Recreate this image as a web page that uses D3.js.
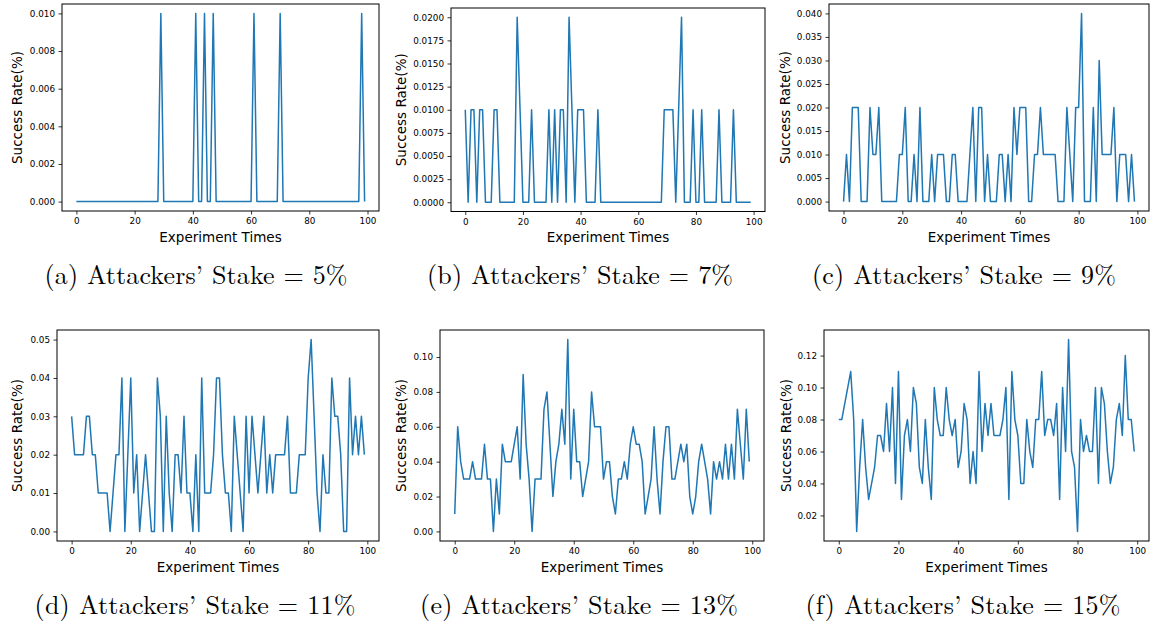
<!DOCTYPE html>
<html>
<head>
<meta charset="utf-8">
<script src="https://cdn.jsdelivr.net/npm/d3@7/dist/d3.min.js"></script>
<style>
  body { margin: 0; background: #fff; }
  svg { display: block; }
</style>
</head>
<body>
<svg id="fig" width="1151" height="624"></svg>
<script>
// Experiment index (x axis): runs 0..99
const experimentTimes = d3.range(100);

// Success rate per run, one series per attackers' stake
const stake5 = [
  0,0,0,0,0,0,0,0,0,0,
  0,0,0,0,0,0,0,0,0,0,
  0,0,0,0,0,0,0,0,0,0.01,
  0,0,0,0,0,0,0,0,0,0,
  0,0.01,0,0,0.01,0,0,0.01,0,0,
  0,0,0,0,0,0,0,0,0,0,
  0,0.01,0,0,0,0,0,0,0,0,
  0.01,0,0,0,0,0,0,0,0,0,
  0,0,0,0,0,0,0,0,0,0,
  0,0,0,0,0,0,0,0,0.01,0
];
const stake7 = [
  0.01,0,0.01,0.01,0,0.01,0.01,0,0,0,
  0.01,0.01,0,0,0,0,0,0,0.02,0.01,
  0,0,0,0.01,0,0,0,0,0,0.01,
  0,0.01,0,0.01,0.01,0,0.02,0.01,0,0.01,
  0.01,0.01,0,0,0,0,0.01,0,0,0,
  0,0,0,0,0,0,0,0,0,0,
  0,0,0,0,0,0,0,0,0,0.01,
  0.01,0.01,0.01,0,0.01,0.02,0,0,0,0.01,
  0,0,0.01,0,0,0,0,0,0.01,0,
  0,0,0,0.01,0,0,0,0,0,0
];
const stake9 = [
  0,0.01,0,0.02,0.02,0.02,0,0,0,0.02,
  0.01,0.01,0.02,0,0,0,0,0,0,0.01,
  0.01,0.02,0,0,0.01,0,0.02,0,0,0,
  0.01,0,0.01,0.01,0.01,0,0,0.01,0.01,0,
  0,0,0,0.01,0.02,0,0.02,0.02,0,0.01,
  0,0,0,0.01,0.01,0,0.01,0,0.02,0.01,
  0.02,0.02,0.02,0,0,0.01,0.01,0.02,0.01,0.01,
  0.01,0.01,0.01,0,0,0,0.02,0.01,0,0.02,
  0.02,0.04,0,0,0,0.02,0,0.03,0.01,0.01,
  0.01,0.01,0.02,0,0.01,0.01,0.01,0,0.01,0
];
const stake11 = [
  0.03,0.02,0.02,0.02,0.02,0.03,0.03,0.02,0.02,0.01,
  0.01,0.01,0.01,0,0.01,0.02,0.02,0.04,0,0.02,
  0.04,0.01,0.02,0,0.01,0.02,0.01,0,0,0.04,
  0.03,0,0.03,0.01,0,0.02,0.02,0.01,0.03,0.01,
  0.01,0,0.02,0,0.04,0.01,0.01,0.01,0.02,0.04,
  0.04,0.02,0.01,0.01,0,0.03,0.02,0.01,0,0.03,
  0.01,0.03,0.02,0.01,0.02,0.03,0.01,0.02,0.01,0.02,
  0.02,0.02,0.02,0.03,0.01,0.01,0.01,0.02,0.02,0.02,
  0.04,0.05,0.03,0.01,0,0.02,0.01,0.01,0.04,0.03,
  0.03,0.02,0,0,0.04,0.02,0.03,0.02,0.03,0.02
];
const stake13 = [
  0.01,0.06,0.04,0.03,0.03,0.03,0.04,0.03,0.03,0.03,
  0.05,0.03,0.03,0,0.03,0.01,0.05,0.04,0.04,0.04,
  0.05,0.06,0.03,0.09,0.05,0.03,0,0.03,0.03,0.03,
  0.07,0.08,0.05,0.02,0.04,0.05,0.07,0.05,0.11,0.03,
  0.07,0.04,0.04,0.02,0.03,0.04,0.08,0.06,0.06,0.06,
  0.03,0.04,0.04,0.02,0.01,0.03,0.03,0.04,0.03,0.05,
  0.06,0.05,0.05,0.04,0.01,0.02,0.03,0.06,0.03,0.01,
  0.04,0.06,0.06,0.03,0.03,0.04,0.05,0.04,0.05,0.02,
  0.01,0.02,0.04,0.05,0.04,0.03,0.01,0.04,0.03,0.04,
  0.03,0.05,0.03,0.05,0.03,0.07,0.05,0.03,0.07,0.04
];
const stake15 = [
  0.08,0.08,0.09,0.10,0.11,0.08,0.01,0.05,0.08,0.05,
  0.03,0.04,0.05,0.07,0.07,0.06,0.09,0.06,0.10,0.04,
  0.11,0.03,0.07,0.08,0.06,0.10,0.09,0.05,0.04,0.08,
  0.05,0.03,0.10,0.08,0.07,0.07,0.10,0.08,0.07,0.08,
  0.05,0.06,0.09,0.08,0.04,0.06,0.04,0.11,0.06,0.09,
  0.07,0.09,0.07,0.07,0.07,0.08,0.10,0.03,0.11,0.08,
  0.07,0.04,0.04,0.08,0.06,0.05,0.08,0.08,0.11,0.07,
  0.08,0.08,0.07,0.09,0.03,0.10,0.06,0.13,0.06,0.05,
  0.01,0.08,0.06,0.07,0.06,0.06,0.10,0.04,0.10,0.09,
  0.06,0.04,0.05,0.08,0.09,0.07,0.12,0.08,0.08,0.06
];

// Tick labels
const xTicks = [0, 20, 40, 60, 80, 100];
const yTicks5  = [0, 0.002, 0.004, 0.006, 0.008, 0.010];
const yTicks7  = [0, 0.0025, 0.005, 0.0075, 0.01, 0.0125, 0.015, 0.0175, 0.02];
const yTicks9  = [0, 0.005, 0.01, 0.015, 0.02, 0.025, 0.03, 0.035, 0.04];
const yTicks11 = [0, 0.01, 0.02, 0.03, 0.04, 0.05];
const yTicks13 = [0, 0.02, 0.04, 0.06, 0.08, 0.10];
const yTicks15 = [0.02, 0.04, 0.06, 0.08, 0.10, 0.12];

const subLetters = ["a", "b", "c", "d", "e", "f"];
const stakeNames = ["5%", "7%", "9%", "11%", "13%", "15%"];
const xLabel = "Experiment Times";
const yLabel = "Success Rate(%)";

// Panel geometry: plot frame, caption placement
const panels = [
  { data: stake5,  ticks: yTicks5,  fmt: ".3f", frame: [62, 4, 379, 211],   ylabX: 17,  capX: 196, capW: 303, capY: 284 },
  { data: stake7,  ticks: yTicks7,  fmt: ".4f", frame: [451, 8, 765, 211.5], ylabX: 401, capX: 580, capW: 306, capY: 284 },
  { data: stake9,  ticks: yTicks9,  fmt: ".3f", frame: [829, 4, 1149, 211],  ylabX: 785, capX: 964, capW: 304, capY: 284 },
  { data: stake11, ticks: yTicks11, fmt: ".2f", frame: [57, 330, 379, 541],  ylabX: 17,  capX: 195, capW: 321, capY: 614 },
  { data: stake13, ticks: yTicks13, fmt: ".2f", frame: [440, 330, 764, 541], ylabX: 401, capX: 579, capW: 318, capY: 614 },
  { data: stake15, ticks: yTicks15, fmt: ".2f", frame: [824, 330, 1149, 541],ylabX: 786, capX: 963, capW: 315, capY: 614 }
];

const svg = d3.select("#fig");
svg.append("rect").attr("width", 1151).attr("height", 624).attr("fill", "#fff");

const sansFont = "'DejaVu Sans', sans-serif";
const serifFont = "'Latin Modern Roman', 'CMU Serif', 'Liberation Serif', serif";

panels.forEach((p, k) => {
  const [l, t, r, b] = p.frame;
  const ext = d3.extent(p.data);
  const pad = (ext[1] - ext[0]) * 0.05;
  const xPad = (experimentTimes[experimentTimes.length - 1] - experimentTimes[0]) * 0.05;

  const x = d3.scaleLinear()
    .domain([experimentTimes[0] - xPad, experimentTimes[experimentTimes.length - 1] + xPad])
    .range([l, r]);
  const y = d3.scaleLinear()
    .domain([ext[0] - pad, ext[1] + pad])
    .range([b, t]);

  const g = svg.append("g");

  // series line
  g.append("path")
    .datum(p.data)
    .attr("fill", "none")
    .attr("stroke", "#1f77b4")
    .attr("stroke-width", 1.5)
    .attr("stroke-linejoin", "round")
    .attr("d", d3.line().x((d, i) => x(experimentTimes[i])).y(d => y(d)));

  // axes
  const xAxis = g.append("g")
    .attr("transform", `translate(0,${b})`)
    .call(d3.axisBottom(x).tickValues(xTicks).tickFormat(d3.format("d")).tickSize(3.5).tickPadding(3.5));
  const yAxis = g.append("g")
    .attr("transform", `translate(${l},0)`)
    .call(d3.axisLeft(y).tickValues(p.ticks).tickFormat(d3.format(p.fmt)).tickSize(3.5).tickPadding(3.5));
  [xAxis, yAxis].forEach(a => {
    a.select(".domain").remove();
    a.selectAll(".tick line").attr("stroke", "#000").attr("stroke-width", 0.8);
    a.selectAll(".tick text").attr("fill", "#000")
      .style("font-family", sansFont).style("font-size", "8.8px");
  });

  // frame (all four spines)
  g.append("rect")
    .attr("x", l).attr("y", t)
    .attr("width", r - l).attr("height", b - t)
    .attr("fill", "none").attr("stroke", "#000").attr("stroke-width", 1);

  // axis titles
  g.append("text")
    .attr("x", (l + r) / 2).attr("y", b + 30.5)
    .attr("text-anchor", "middle")
    .style("font-family", sansFont).style("font-size", "13.5px")
    .text(xLabel);
  g.append("text")
    .attr("transform", `translate(${p.ylabX},${(t + b) / 2}) rotate(-90)`)
    .attr("text-anchor", "middle")
    .attr("dy", "0.35em")
    .style("font-family", sansFont).style("font-size", "13.5px")
    .text(yLabel);

  // sub-caption
  svg.append("text")
    .attr("x", p.capX - p.capW / 2).attr("y", p.capY)
    .attr("textLength", p.capW)
    .attr("lengthAdjust", "spacing")
    .style("font-family", serifFont).style("font-size", "26px")
    .text(`(${subLetters[k]}) Attackers\u2019 Stake = ${stakeNames[k]}`);
});
</script>
</body>
</html>
